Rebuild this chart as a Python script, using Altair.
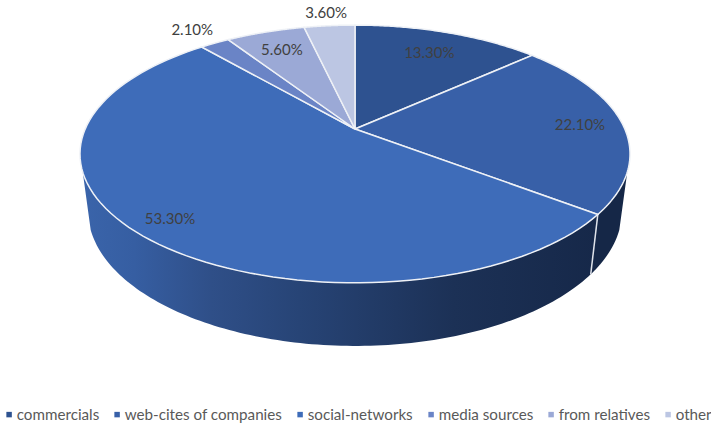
import numpy as np
import pandas as pd
import altair as alt

sources = ["commercials", "web-cites of companies", "social-networks",
           "media sources", "from relatives", "other"]
shares = [13.3, 22.1, 53.3, 2.1, 5.6, 3.6]
value_labels = ["13.30%", "22.10%", "53.30%", "2.10%", "5.60%", "3.60%"]
label_radii = [0.772, 0.84, 0.875, 1.19, 0.79, 1.16]
slice_colors = ["#2e5290", "#3860a8", "#3e6cb9", "#6a84c6", "#9ba9d6", "#bcc6e3"]

W, H = 711, 426
CX = 355.0
TILT = 0.1938
# Perspective of the disc: (apex y, vertical gain, horizontal gain)
TOP_FACE = (129.0, 124.0, 269.8)
BOTTOM_FACE = (184.8, 129.9, 261.9)


def project(theta, radius, face):
    """Tilted-disc projection; theta runs clockwise from twelve o'clock."""
    y0, gain_y, gain_x = face
    u = radius * np.sin(theta)
    v = radius * np.cos(theta)
    den = 1 + TILT * v
    return CX + gain_x * u / den, y0 - gain_y * v / den


total = sum(shares)
edges = 2 * np.pi * np.concatenate([[0], np.cumsum(shares)]) / total

# Top face wedges
rows = []
for i, name in enumerate(sources):
    thetas = np.linspace(edges[i], edges[i + 1], 90)
    xs, ys = project(thetas, 1.0, TOP_FACE)
    ax, ay = project(0.0, 0.0, TOP_FACE)
    path = [(ax, ay)] + list(zip(xs, ys)) + [(ax, ay)]
    rows += [{"source": name, "k": k, "x": p[0], "y": p[1]} for k, p in enumerate(path)]
wedges = pd.DataFrame(rows)


def wall_frame(start, stop):
    thetas = np.linspace(start, stop, 120)
    tx, ty = project(thetas, 1.0, TOP_FACE)
    bx, by = project(thetas[::-1], 1.0, BOTTOM_FACE)
    xs = np.concatenate([tx, bx])
    ys = np.concatenate([ty, by])
    return pd.DataFrame({"k": np.arange(len(xs)), "x": xs, "y": ys})


# Rim is visible between the two silhouette angles of the disc
RIM_START = np.radians(109)
RIM_STOP = np.radians(251)
split = edges[2]
wall_right = wall_frame(RIM_START, split)
wall_left = wall_frame(split, RIM_STOP)

sx0, sy0 = project(split, 1.0, TOP_FACE)
sx1, sy1 = project(split, 1.0, BOTTOM_FACE)
seam = pd.DataFrame({"k": [0, 1], "x": [sx0, sx1], "y": [sy0, sy1]})

mids = (edges[:-1] + edges[1:]) / 2
lx, ly = project(mids, np.array(label_radii), TOP_FACE)
labels = pd.DataFrame({"x": lx, "y": ly, "text": value_labels})

x_enc = alt.X("x:Q", scale=alt.Scale(domain=[0, W], range=[0, W]), axis=None)
y_enc = alt.Y("y:Q", scale=alt.Scale(domain=[0, H], range=[0, H]), axis=None)
order_enc = alt.Order("k:Q")

left_rim = alt.Chart(wall_left).mark_line(
    fill=alt.Gradient(
        gradient="linear", x1=0, x2=1, y1=0, y2=0,
        stops=[
            alt.GradientStop(color="#3a64aa", offset=0),
            alt.GradientStop(color="#365ea2", offset=0.1),
            alt.GradientStop(color="#2f4f88", offset=0.25),
            alt.GradientStop(color="#274476", offset=0.42),
            alt.GradientStop(color="#1c3156", offset=0.72),
            alt.GradientStop(color="#162849", offset=1),
        ],
    ),
    strokeOpacity=0,
).encode(x=x_enc, y=y_enc, order=order_enc)

right_rim = alt.Chart(wall_right).mark_line(fill="#152747", strokeOpacity=0).encode(
    x=x_enc, y=y_enc, order=order_enc
)

seam_line = alt.Chart(seam).mark_line(color="#dfe3ea", strokeWidth=1.5).encode(
    x=x_enc, y=y_enc, order=order_enc
)

legend = alt.Legend(
    title=None, orient="none", legendX=1.5, legendY=407, direction="horizontal",
    columns=6, symbolType="square", symbolSize=30, symbolStrokeWidth=0,
    symbolOpacity=1, labelFont="Lato", labelFontSize=15.2, labelColor="#595959",
    columnPadding=10, labelOffset=0, gridAlign="none", labelLimit=300,
)

faces = alt.Chart(wedges).mark_line(stroke="#eef1f6", strokeWidth=1.5).encode(
    x=x_enc, y=y_enc, order=order_enc,
    fill=alt.Fill(
        "source:N",
        scale=alt.Scale(domain=sources, range=slice_colors),
        legend=legend,
    ),
)

texts = alt.Chart(labels).mark_text(
    font="Lato", fontSize=15, color="#404040", align="center", baseline="middle", dy=0.5
).encode(x=x_enc, y=y_enc, text="text:N")

chart = (
    alt.layer(left_rim, right_rim, seam_line, faces, texts)
    .properties(width=W, height=H, padding=0, autosize=alt.AutoSizeParams(type="none"))
    .configure_view(stroke=None)
)

chart.save("out.html", embed_options={"renderer": "svg", "actions": False})
